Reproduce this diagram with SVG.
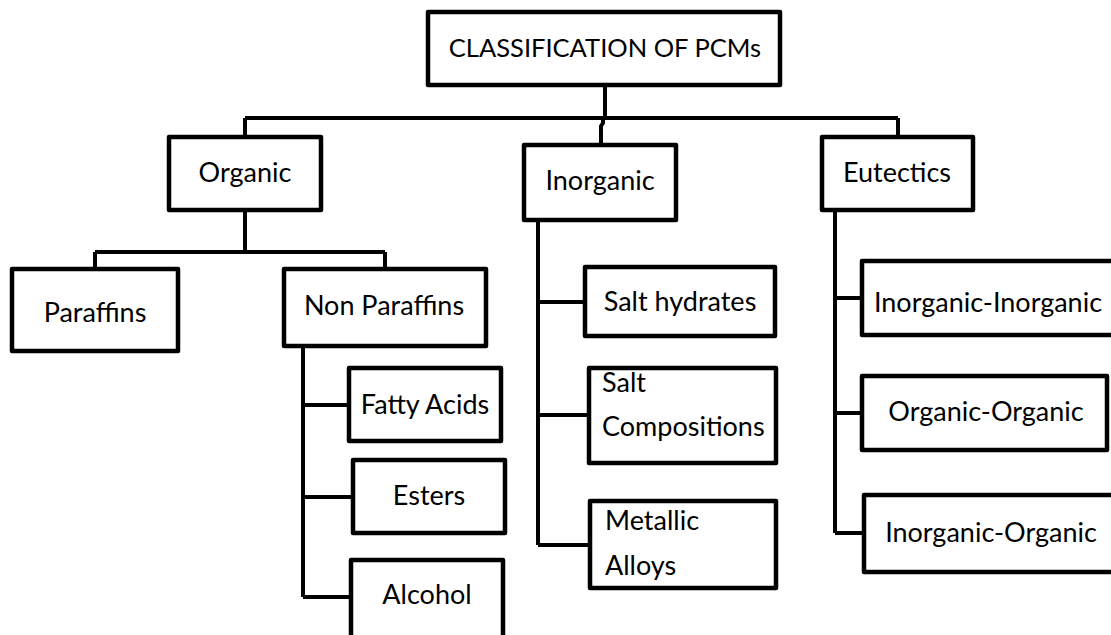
<svg xmlns="http://www.w3.org/2000/svg" width="1111" height="635" viewBox="0 0 1111 635">
<style>
.box{fill:#fff;stroke:#000;stroke-width:4.5;stroke-linejoin:round}
.ln{fill:none;stroke:#000;stroke-width:4;stroke-linejoin:round}
text{font-family:Lato,"Open Sans","Liberation Sans",sans-serif;font-size:27px;fill:#000}
.c{text-anchor:middle}
.caps{font-size:25.5px}
</style>
<rect width="1111" height="635" fill="#fff"/>
<g id="connectors">
<path class="ln" d="M605,87 V118 M245,118 H898 M245,118 V137 M898,118 V137 M603,118 V123 L601,126 V145"/>
<path class="ln" d="M245,212 V252 M95,252 H385 M95,252 V269 M385,252 V269"/>
<path class="ln" d="M303,348 V597 M303,405 H349 M303,497 H353 M303,597 H351"/>
<path class="ln" d="M538,222 V545 M538,302 H585 M538,415 H589 M538,545 H590"/>
<path class="ln" d="M835,212 V533 M835,298 H862 M835,413 H862 M835,533 H864"/>
</g>
<g id="root"><rect class="box" x="428" y="12" width="352" height="73"/><text class="c caps" x="605" y="57">CLASSIFICATION OF PCMs</text></g>
<g id="organic"><rect class="box" x="169" y="137" width="152" height="73"/><text class="c" x="245" y="182">Organic</text></g>
<g id="inorganic"><rect class="box" x="524" y="145" width="152" height="75"/><text class="c" x="600" y="190">Inorganic</text></g>
<g id="eutectics"><rect class="box" x="822" y="137" width="151" height="73"/><text class="c" x="897" y="182">Eutectics</text></g>
<g id="paraffins"><rect class="box" x="12" y="269" width="166" height="82"/><text class="c" x="95" y="322">Paraffins</text></g>
<g id="nonparaffins"><rect class="box" x="284" y="269" width="202" height="77"/><text class="c" x="384" y="315">Non Paraffins</text></g>
<g id="fattyacids"><rect class="box" x="349" y="368" width="152" height="73"/><text class="c" x="425" y="414">Fatty Acids</text></g>
<g id="esters"><rect class="box" x="353" y="460" width="152" height="73"/><text class="c" x="429" y="505">Esters</text></g>
<g id="alcohol"><rect class="box" x="351" y="560" width="152" height="80"/><text class="c" x="427" y="604">Alcohol</text></g>
<g id="salthydrates"><rect class="box" x="585" y="267" width="190" height="69"/><text class="c" x="680" y="311">Salt hydrates</text></g>
<g id="saltcompositions"><rect class="box" x="589" y="368" width="187" height="95"/><text x="602" y="392">Salt</text><text x="602" y="436">Compositions</text></g>
<g id="metallicalloys"><rect class="box" x="590" y="501" width="186" height="87"/><text x="605" y="530">Metallic</text><text x="605" y="575">Alloys</text></g>
<g id="inorganicinorganic"><rect class="box" x="862" y="261" width="260" height="74"/><text class="c" x="988" y="312">Inorganic-Inorganic</text></g>
<g id="organicorganic"><rect class="box" x="862" y="376" width="245" height="74"/><text class="c" x="986" y="421">Organic-Organic</text></g>
<g id="inorganicorganic"><rect class="box" x="864" y="495" width="260" height="77"/><text class="c" x="991" y="542">Inorganic-Organic</text></g>
</svg>
